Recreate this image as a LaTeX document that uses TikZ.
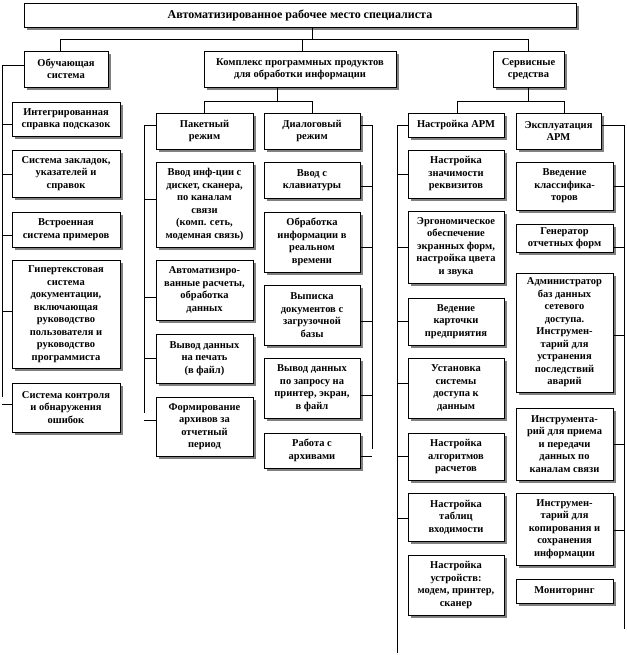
\documentclass[tikz,border=0pt]{standalone}
\usepackage{fontspec}
\setmainfont{Liberation Serif}
\usetikzlibrary{shadows}
\tikzset{
  bx/.style={draw, line width=0.8pt, fill=white, align=center, inner sep=1pt,
    font=\fontsize{10.5}{12.5}\selectfont\bfseries,
    drop shadow={shadow xshift=3pt, shadow yshift=-3pt, fill=black!50, opacity=1}},
  ln/.style={line width=0.8pt}
}
\newcommand\bxnode[6]{%
  \pgfmathsetmacro\myBW{#4-#2}\pgfmathsetmacro\myBH{#5-#3}%
  \node[bx, minimum width=\myBW pt, minimum height=\myBH pt] (#1) at ({(#2+#4)/2},{(#3+#5)/2}) {#6};}
\newcommand\lconn[3]{\draw[ln] (#1.west |- 0,#3) -- (#2 |- 0,#3);}
\newcommand\rconn[3]{\draw[ln] (#1.east |- 0,#3) -- (#2 |- 0,#3);}
\begin{document}
\begin{tikzpicture}[x=1pt,y=-1pt]
\useasboundingbox (0,0) rectangle (626,655);
% top
\bxnode{top}{24}{3}{576}{27}{\fontsize{12}{14}\selectfont Автоматизированное рабочее место специалиста}
\bxnode{obuch}{24}{51}{108}{87}{Обучающая\\система}
\bxnode{kompl}{204}{51}{396}{87}{Комплекс программных продуктов\\для обработки информации}
\bxnode{serv}{493}{51}{564}{87}{Сервисные\\средства}
\coordinate (j0) at (312,39);
\coordinate (j1) at (60,39);
\coordinate (j2) at (302,39);
\coordinate (j3) at (528,39);
\draw[ln] (top.south -| j0) -- (j0);
\draw[ln] (j1) -- (j3);
\draw[ln] (j1) -- (j1 |- obuch.north);
\draw[ln] (j2) -- (j2 |- kompl.north);
\draw[ln] (j3) -- (j3 |- serv.north);
% left column
\bxnode{l1}{12}{102}{120}{136}{Интегрированная\\справка подсказок}
\bxnode{l2}{12}{150}{120}{197}{Система закладок,\\указателей и\\справок}
\bxnode{l3}{12}{212}{120}{247}{Встроенная\\система примеров}
\bxnode{l4}{12}{260}{120}{368}{Гипертекстовая\\система\\документации,\\включающая\\руководство\\пользователя и\\руководство\\программиста}
\bxnode{l5}{12}{383}{120}{432}{Система контроля\\и обнаружения\\ошибок}
\coordinate (LB0) at (2,65);
\coordinate (LB1) at (2,397);
\draw[ln] (obuch.west |- LB0) -- (LB0) -- (LB1);
\lconn{l1}{LB0}{124}
\lconn{l2}{LB0}{174}
\lconn{l3}{LB0}{235}
\lconn{l4}{LB0}{311}
\lconn{l5}{LB0}{404}
% complex
\bxnode{pak}{156}{113}{253}{149}{Пакетный\\режим}
\bxnode{dial}{264}{113}{360}{149}{Диалоговый\\режим}
\coordinate (k0) at (277,101);
\coordinate (k1) at (204,101);
\coordinate (k2) at (312,101);
\draw[ln] (kompl.south -| k0) -- (k0);
\draw[ln] (k1) -- (k2);
\draw[ln] (k1) -- (k1 |- pak.north);
\draw[ln] (k2) -- (k2 |- dial.north);
\bxnode{p1}{156}{162}{253}{247}{Ввод инф-ции с\\дискет, сканера,\\по каналам\\связи\\(комп. сеть,\\модемная связь)}
\bxnode{p2}{156}{260}{253}{320}{Автоматизиро-\\ванные расчеты,\\обработка\\данных}
\bxnode{p3}{156}{334}{253}{383}{Вывод данных\\на печать\\(в файл)}
\bxnode{p4}{156}{397}{253}{456}{Формирование\\архивов за\\отчетный\\период}
\coordinate (PB0) at (144,125);
\coordinate (PB1) at (144,413);
\draw[ln] (pak.west |- PB0) -- (PB0) -- (PB1);
\lconn{p1}{PB0}{199}
\lconn{p2}{PB0}{297}
\lconn{p3}{PB0}{358}
\lconn{p4}{PB0}{420}
\bxnode{d1}{264}{162}{360}{198}{Ввод с\\клавиатуры}
\bxnode{d2}{264}{212}{360}{272}{Обработка\\информации в\\реальном\\времени}
\bxnode{d3}{264}{285}{360}{345}{Выписка\\документов с\\загрузочной\\базы}
\bxnode{d4}{264}{358}{360}{418}{Вывод данных\\по запросу на\\принтер, экран,\\в файл}
\bxnode{d5}{264}{433}{360}{468}{Работа с\\архивами}
\coordinate (DB0) at (372,125);
\coordinate (DB1) at (372,449);
\draw[ln] (dial.east |- DB0) -- (DB0) -- (DB1);
\rconn{d1}{DB0}{186}
\rconn{d2}{DB0}{247}
\rconn{d3}{DB0}{321}
\rconn{d4}{DB0}{395}
\rconn{d5}{DB0}{456}
% service
\bxnode{nastr}{408}{113}{504}{137}{Настройка АРМ}
\bxnode{expl}{516}{113}{601}{149}{Эксплуатация\\АРМ}
\coordinate (s0) at (528,101);
\coordinate (s1) at (457,101);
\coordinate (s2) at (564,101);
\draw[ln] (serv.south -| s0) -- (s0);
\draw[ln] (s1) -- (s2);
\draw[ln] (s1) -- (s1 |- nastr.north);
\draw[ln] (s2) -- (s2 |- expl.north);
\bxnode{n1}{408}{150}{504}{198}{Настройка\\значимости\\реквизитов}
\bxnode{n2}{408}{211}{504}{283}{Эргономическое\\обеспечение\\экранных форм,\\настройка цвета\\и звука}
\bxnode{n3}{408}{298}{504}{345}{Ведение\\карточки\\предприятия}
\bxnode{n4}{408}{358}{504}{418}{Установка\\системы\\доступа к\\данным}
\bxnode{n5}{408}{433}{504}{480}{Настройка\\алгоритмов\\расчетов}
\bxnode{n6}{408}{493}{504}{541}{Настройка\\таблиц\\входимости}
\bxnode{n7}{408}{555}{504}{615}{Настройка\\устройств:\\модем, принтер,\\сканер}
\coordinate (NB0) at (397,125);
\coordinate (NB1) at (397,653);
\draw[ln] (nastr.west |- NB0) -- (NB0) -- (NB1);
\lconn{n1}{NB0}{174}
\lconn{n2}{NB0}{247}
\lconn{n3}{NB0}{321}
\lconn{n4}{NB0}{383}
\lconn{n5}{NB0}{456}
\lconn{n6}{NB0}{518}
\bxnode{e1}{516}{162}{613}{210}{Введение\\классифика-\\торов}
\bxnode{e2}{516}{224}{613}{252}{Генератор\\отчетных форм}
\bxnode{e3}{516}{273}{613}{392}{Администратор\\баз данных\\сетевого\\доступа.\\Инструмен-\\тарий для\\устранения\\последствий\\аварий}
\bxnode{e4}{516}{408}{613}{480}{Инструмента-\\рий для приема\\и передачи\\данных по\\каналам связи}
\bxnode{e5}{516}{493}{613}{565}{Инструмен-\\тарий для\\копирования и\\сохранения\\информации}
\bxnode{e6}{516}{579}{613}{603}{Мониторинг}
\coordinate (EB0) at (624,125);
\coordinate (EB1) at (624,629);
\draw[ln] (expl.east |- EB0) -- (EB0) -- (EB1);
\rconn{e1}{EB0}{186}
\rconn{e2}{EB0}{247}
\rconn{e3}{EB0}{335}
\rconn{e4}{EB0}{444}
\rconn{e5}{EB0}{530}
\end{tikzpicture}
\end{document}
